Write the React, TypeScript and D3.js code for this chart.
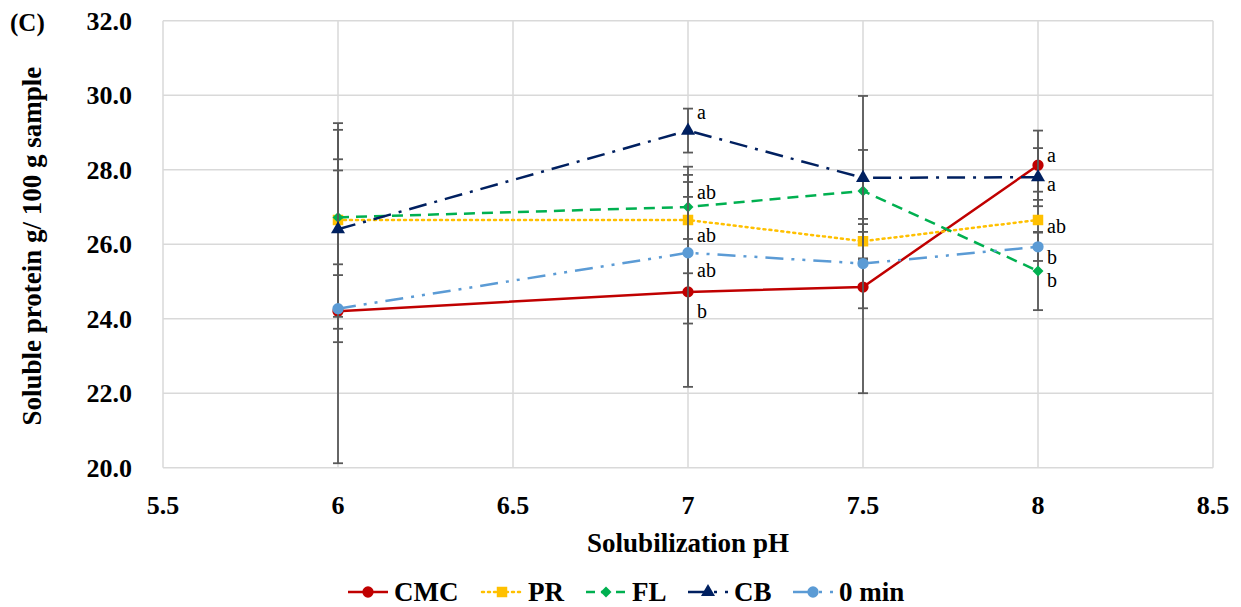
import { useRef, useEffect } from 'react';
import * as d3 from 'd3';

// pH values on the x axis
const phValues = [6, 7, 7.5, 8];

// means, g/100 g sample
const cmc = [24.2, 24.72, 24.85, 28.12];
const pr = [26.65, 26.65, 26.08, 26.65];
const fl = [26.72, 27.0, 27.43, 25.28];
const cb = [26.4, 29.05, 27.78, 27.8];
const min0 = [24.27, 25.77, 25.48, 25.93];

// error bar half widths
const cmcErr = [4.08, 2.55, 2.85, 0.93];
const prErr = [2.6, 1.43, 0.46, 0.76];
const flErr = [1.26, 0.86, 1.1, 1.05];
const cbErr = [2.67, 0.59, 2.2, 0.78];
const min0Err = [0.9, 1.9, 1.2, 0.38];

// significance letters: [pH, letter, anchor value]
const letters = [
  [7, 'a', 29.52], [7, 'ab', 27.37], [7, 'ab', 26.22], [7, 'ab', 25.28], [7, 'b', 24.18],
  [8, 'a', 28.36], [8, 'a', 27.6], [8, 'ab', 26.46], [8, 'b', 25.64], [8, 'b', 25.0],
];

const xTicks = [5.5, 6, 6.5, 7, 7.5, 8, 8.5];
const yTicks = [20, 22, 24, 26, 28, 30, 32];

const series = [
  { name: 'CMC', values: cmc, err: cmcErr, color: '#C00000', dash: null, marker: 'circle' },
  { name: 'PR', values: pr, err: prErr, color: '#FFC000', dash: '2,4', marker: 'square' },
  { name: 'FL', values: fl, err: flErr, color: '#00B050', dash: '11,7', marker: 'diamond' },
  { name: 'CB', values: cb, err: cbErr, color: '#002060', dash: '18,8,3,8', marker: 'triangle' },
  { name: '0 min', values: min0, err: min0Err, color: '#5B9BD5', dash: '18,8,3,8,3,8', marker: 'circle' },
];
const legendDash: Record<string, string | null> = { CMC: null, PR: '2,4', FL: '9,6', CB: '18,8,3,8', '0 min': '18,8,3,8' };

const symbolFor = (m: string) => {
  if (m === 'square') return d3.symbol(d3.symbolSquare, 110)();
  if (m === 'diamond') return d3.symbol(d3.symbolSquare, 60)();
  if (m === 'triangle') return d3.symbol(d3.symbolTriangle, 85)();
  return d3.symbol(d3.symbolCircle, 100)();
};
const rot = (m: string) => (m === 'diamond' ? ' rotate(45)' : '');

export default function App() {
  const svgRef = useRef<SVGSVGElement>(null);

  useEffect(() => {
    const W = 1241, H = 607;
    const margin = { top: 20.7, right: 28, bottom: 139.3, left: 163 };
    const font = "'Liberation Serif', 'Times New Roman', 'DejaVu Serif', serif";

    const svg = d3.select(svgRef.current).html('')
      .attr('width', W).attr('height', H);

    svg.append('rect').attr('width', W).attr('height', H).attr('fill', '#fff');

    const x = d3.scaleLinear().domain([5.5, 8.5]).range([margin.left, W - margin.right]);
    const y = d3.scaleLinear().domain([20, 32]).range([H - margin.bottom, margin.top]);

    // grid
    const grid = svg.append('g').attr('stroke', '#D9D9D9').attr('stroke-width', 1.5);
    grid.selectAll('.gx').data(xTicks).enter().append('line')
      .attr('x1', d => x(d)).attr('x2', d => x(d))
      .attr('y1', y(32)).attr('y2', y(20));
    grid.selectAll('.gy').data(yTicks).enter().append('line')
      .attr('x1', x(5.5)).attr('x2', x(8.5))
      .attr('y1', d => y(d)).attr('y2', d => y(d));

    // tick labels
    svg.append('g').selectAll('text').data(yTicks).enter().append('text')
      .attr('x', 132).attr('y', d => y(d) + 9)
      .style('font-family', font)
      .attr('text-anchor', 'end').attr('font-weight', 'bold').attr('font-size', 26)
      .text(d => d.toFixed(1));
    svg.append('g').selectAll('text').data(xTicks).enter().append('text')
      .attr('x', d => x(d)).attr('y', 514)
      .style('font-family', font)
      .attr('text-anchor', 'middle').attr('font-weight', 'bold').attr('font-size', 26)
      .text(d => String(d));

    // axis titles
    svg.append('text')
      .attr('x', x(7)).attr('y', 552)
      .style('font-family', font)
      .attr('text-anchor', 'middle').attr('font-weight', 'bold').attr('font-size', 27)
      .text('Solubilization pH');
    svg.append('text')
      .attr('transform', `translate(41,${(y(20) + y(32)) / 2 + 2}) rotate(-90)`)
      .style('font-family', font)
      .attr('text-anchor', 'middle').attr('font-weight', 'bold').attr('font-size', 27)
      .text('Soluble protein g/ 100 g sample');
    svg.append('text')
      .attr('x', 10).attr('y', 31)
      .style('font-family', font)
      .attr('font-weight', 'bold').attr('font-size', 25)
      .text('(C)');

    // series
    series.forEach(s => {
      const g = svg.append('g');
      const pts = phValues.map((p, i) => ({ p, v: s.values[i], e: s.err[i] }));

      // error bars
      const eb = g.append('g').attr('stroke', '#595959').attr('stroke-width', 1.8);
      pts.forEach(d => {
        eb.append('line').attr('x1', x(d.p)).attr('x2', x(d.p))
          .attr('y1', y(d.v - d.e)).attr('y2', y(d.v + d.e));
        [d.v - d.e, d.v + d.e].forEach(v => {
          eb.append('line').attr('x1', x(d.p) - 5).attr('x2', x(d.p) + 5)
            .attr('y1', y(v)).attr('y2', y(v));
        });
      });

      const line = d3.line<{ p: number; v: number }>().x(d => x(d.p)).y(d => y(d.v));
      g.append('path').datum(pts)
        .attr('fill', 'none').attr('stroke', s.color).attr('stroke-width', 2.5)
        .attr('stroke-dasharray', s.dash)
        .attr('stroke-linecap', s.name === 'PR' ? 'round' : 'butt')
        .attr('d', line);

      g.selectAll('.m').data(pts).enter().append('path')
        .attr('transform', d => `translate(${x(d.p)},${y(d.v)})${rot(s.marker)}`)
        .attr('d', symbolFor(s.marker))
        .attr('fill', s.color);
    });

    // letters
    svg.append('g').selectAll('text').data(letters).enter().append('text')
      .attr('x', d => x(d[0] as number) + 9)
      .attr('y', d => y(d[2] as number) + 6)
      .style('font-family', font)
      .attr('font-size', 20)
      .text(d => d[1] as string);

    // legend
    const legX = [348, 482, 586, 688, 793];
    const lg = svg.append('g');
    series.forEach((s, i) => {
      const lx = legX[i];
      const ly = 592;
      lg.append('line').attr('x1', lx).attr('x2', lx + 40).attr('y1', ly).attr('y2', ly)
        .attr('stroke', s.color).attr('stroke-width', 2.5)
        .attr('stroke-dasharray', legendDash[s.name])
        .attr('stroke-linecap', s.name === 'PR' ? 'round' : 'butt');
      lg.append('path').attr('transform', `translate(${lx + 20},${ly})${rot(s.marker)}`)
        .attr('d', symbolFor(s.marker)).attr('fill', s.color);
      lg.append('text').attr('x', lx + 46).attr('y', ly + 9)
        .style('font-family', font)
        .attr('font-weight', 'bold').attr('font-size', 27)
        .text(s.name);
    });
  }, []);

  return <svg ref={svgRef} style={{ display: 'block', position: 'absolute', left: 0, top: 0 }} />;
}
